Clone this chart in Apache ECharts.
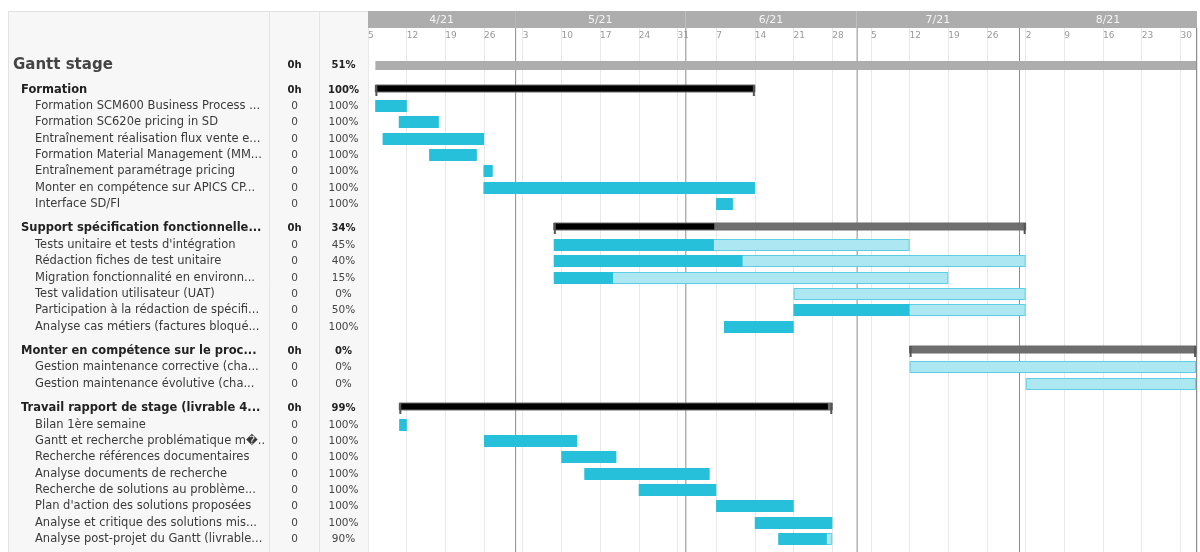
<!DOCTYPE html>
<html>
<head>
<meta charset="utf-8">
<title>Gantt stage</title>
<script src="https://cdn.jsdelivr.net/npm/echarts@6/dist/echarts.min.js"></script>
<style>
  html, body { margin: 0; padding: 0; background: #fff; }
  #main { width: 1200px; height: 552px; }
</style>
</head>
<body>
<div id="main"></div>
<script>
// rows, top to bottom. level: 0 = projet, 1 = groupe, 2 = tâche
var taskNames = [
  "Gantt stage",
  "Formation",
  "Formation SCM600 Business Process ...",
  "Formation SC620e pricing in SD",
  "Entraînement réalisation flux vente e...",
  "Formation Material Management (MM...",
  "Entraînement paramétrage pricing",
  "Monter en compétence sur APICS CP...",
  "Interface SD/FI",
  "Support spécification fonctionnelle...",
  "Tests unitaire et tests d'intégration",
  "Rédaction fiches de test unitaire",
  "Migration fonctionnalité en environn...",
  "Test validation utilisateur (UAT)",
  "Participation à la rédaction de spécifi...",
  "Analyse cas métiers (factures bloqué...",
  "Monter en compétence sur le proc...",
  "Gestion maintenance corrective (cha...",
  "Gestion maintenance évolutive (cha...",
  "Travail rapport de stage (livrable 4...",
  "Bilan 1ère semaine",
  "Gantt et recherche problématique m\uFFFD..",
  "Recherche références documentaires",
  "Analyse documents de recherche",
  "Recherche de solutions au problème...",
  "Plan d'action des solutions proposées",
  "Analyse et critique des solutions mis...",
  "Analyse post-projet du Gantt (livrable..."
];
var taskLevel = [0, 1, 2, 2, 2, 2, 2, 2, 2, 1, 2, 2, 2, 2, 2, 2, 1, 2, 2, 1, 2, 2, 2, 2, 2, 2, 2, 2];
var taskHours = ["0h", "0h", "0", "0", "0", "0", "0", "0", "0", "0h", "0", "0", "0", "0", "0", "0",
  "0h", "0", "0", "0h", "0", "0", "0", "0", "0", "0", "0", "0"];
var taskProgress = [51, 100, 100, 100, 100, 100, 100, 100, 100, 34, 45, 40, 15, 0, 50, 100,
  0, 0, 0, 99, 100, 100, 100, 100, 100, 100, 100, 90];
var taskStart = [
  "2021-04-06 08:00",
  "2021-04-06 08:00", "2021-04-06 08:00", "2021-04-10 14:00", "2021-04-07 16:00",
  "2021-04-16 02:00", "2021-04-25 22:00", "2021-04-25 22:00", "2021-06-07 00:00",
  "2021-05-08 15:00", "2021-05-08 15:00", "2021-05-08 15:00", "2021-05-08 15:00",
  "2021-06-21 00:00", "2021-06-21 00:00", "2021-06-08 10:00",
  "2021-07-12 00:00", "2021-07-12 00:00", "2021-08-02 00:00",
  "2021-04-10 16:00", "2021-04-10 16:00", "2021-04-26 00:00", "2021-05-10 00:00",
  "2021-05-14 04:00", "2021-05-24 00:00", "2021-06-07 00:00", "2021-06-14 00:00",
  "2021-06-18 06:00"
];
var taskEnd = [
  "2021-09-01 20:00",
  "2021-06-14 00:00", "2021-04-12 00:00", "2021-04-17 19:00", "2021-04-26 00:00",
  "2021-04-24 16:00", "2021-04-27 13:00", "2021-06-14 00:00", "2021-06-10 00:00",
  "2021-08-02 00:00", "2021-07-12 00:00", "2021-08-02 00:00", "2021-07-19 00:00",
  "2021-08-02 00:00", "2021-08-02 00:00", "2021-06-21 00:00",
  "2021-09-01 20:00", "2021-09-01 20:00", "2021-09-01 20:00",
  "2021-06-28 00:00", "2021-04-12 00:00", "2021-05-12 20:00", "2021-05-19 22:00",
  "2021-06-05 19:00", "2021-06-07 00:00", "2021-06-21 00:00", "2021-06-28 00:00",
  "2021-06-28 00:00"
];

// échelle des mois
var monthBounds = ["2021-04-05", "2021-05-01 15:00", "2021-06-01 10:00", "2021-07-02 10:00",
  "2021-07-31 19:00", "2021-09-02"];
var monthLabels = ["4/21", "5/21", "6/21", "7/21", "8/21"];

var axisStart = "2021-04-05";
var axisEnd = "2021-09-02";

var base = toUTC(axisStart);
function toUTC(s) {
  var p = s.split(/[- :]/);
  return Date.UTC(+p[0], p[1] - 1, +p[2], +(p[3] || 0), +(p[4] || 0));
}
function days(s) {
  return (toUTC(s) - base) / 86400000;
}

// position verticale des lignes (demi-ligne de plus avant chaque groupe)
var rowPos = [];
var pos = 0;
taskLevel.forEach(function (lv, i) {
  if (i > 0) pos += lv < 2 ? 1.5 : 1;
  rowPos.push(pos);
});

var barData = taskStart.map(function (s, i) {
  return [days(s), days(taskEnd[i]), rowPos[i], taskProgress[i], taskLevel[i]];
});
var tableData = rowPos.map(function (p, i) { return [0, p, i]; });
var monthData = monthLabels.map(function (m, i) {
  return [days(monthBounds[i]), days(monthBounds[i + 1]), i];
});
var maxDay = days(axisEnd);

var chart = echarts.init(document.getElementById("main"));
var FONT = "DejaVu Sans";

function renderMonth(params, api) {
  var a = api.value(0), b = api.value(1), i = api.value(2);
  var x0 = api.coord([Math.max(a, 0), 0])[0];
  var x1 = api.coord([Math.min(b, maxDay), 0])[0];
  var h = api.getHeight();
  var kids = [
    { type: "rect", shape: { x: x0, y: 11, width: x1 - x0, height: 17 }, style: { fill: "#adadad" } },
    { type: "text", x: (x0 + x1) / 2, y: 20,
      style: { text: monthLabels[i], fill: "#f4f4f4", font: "11px " + FONT, align: "center", verticalAlign: "middle" } }
  ];
  if (a > 0) {
    kids.push({ type: "line", shape: { x1: x0 + 0.5, y1: 28, x2: x0 + 0.5, y2: 552 }, style: { stroke: "#8c8c8c", lineWidth: 1 } });
  }
  if (b >= maxDay) {
    kids.push({ type: "line", shape: { x1: x1 - 0.5, y1: 28, x2: x1 - 0.5, y2: 552 }, style: { stroke: "#8c8c8c", lineWidth: 1 } });
  }
  return { type: "group", children: kids };
}

function renderBar(params, api) {
  var p0 = api.coord([api.value(0), api.value(2)]);
  var p1 = api.coord([api.value(1), api.value(2)]);
  var prog = api.value(3), lv = api.value(4);
  var y = Math.round(p0[1]);
  var xs = p0[0], xe = p1[0];
  var xp = xs + (xe - xs) * prog / 100;
  var kids = [];
  if (lv === 0) {
    kids.push({ type: "rect", shape: { x: xs, y: y - 4, width: xe - xs, height: 9 }, style: { fill: "#adadad" } });
  } else if (lv === 1) {
    kids.push({ type: "rect", shape: { x: xs, y: y - 5, width: xe - xs, height: 7 }, style: { fill: "#6e6e6e" } });
    if (prog > 0) {
      kids.push({ type: "rect", shape: { x: xs, y: y - 5, width: xp - xs, height: 7 }, style: { fill: "#000" } });
    }
    kids.push({ type: "rect", shape: { x: xs, y: y - 5, width: xe - xs, height: 7 }, style: { fill: null, stroke: "#6a6a6a", lineWidth: 1 } });
    kids.push({ type: "rect", shape: { x: xs, y: y - 5, width: 2, height: 11 }, style: { fill: "#555" } });
    kids.push({ type: "rect", shape: { x: xe - 2, y: y - 5, width: 2, height: 11 }, style: { fill: "#555" } });
  } else {
    kids.push({ type: "rect", shape: { x: xs + 0.5, y: y - 5.5, width: xe - xs - 1, height: 11 },
      style: { fill: "#ade8f2", stroke: "#5ccde2", lineWidth: 1 } });
    if (prog > 0) {
      kids.push({ type: "rect", shape: { x: xs, y: y - 6, width: xp - xs, height: 12 }, style: { fill: "#26c0db" } });
    }
  }
  return { type: "group", children: kids };
}

function renderRow(params, api) {
  var i = api.value(2);
  var y = Math.round(api.coord([0, api.value(1)])[1]);
  var lv = taskLevel[i];
  var nameX = [13, 21, 35][lv];
  var nameFont = lv === 0 ? "bold 15px " + FONT : (lv === 1 ? "bold 11.5px " + FONT : "11.5px " + FONT);
  var nameColor = lv === 0 ? "#444" : (lv === 1 ? "#222" : "#3a3a3a");
  var numFont = lv < 2 ? "bold 10px " + FONT : "10.5px " + FONT;
  var numColor = lv < 2 ? "#222" : "#444";
  return {
    type: "group",
    children: [
      { type: "text", x: nameX, y: y, style: { text: taskNames[i], font: nameFont, fill: nameColor, verticalAlign: "middle" } },
      { type: "text", x: 294.5, y: y, style: { text: taskHours[i], font: numFont, fill: numColor, align: "center", verticalAlign: "middle" } },
      { type: "text", x: 343.5, y: y, style: { text: taskProgress[i] + "%", font: numFont, fill: numColor, align: "center", verticalAlign: "middle" } }
    ]
  };
}

var option = {
  animation: false,
  backgroundColor: "#fff",
  textStyle: { fontFamily: FONT },
  graphic: [
    { type: "rect", left: 8, top: 11, shape: { width: 360, height: 560 }, style: { fill: "#f7f7f7", stroke: "#e2e2e2", lineWidth: 1 }, z: 0 },
    { type: "line", shape: { x1: 269.5, y1: 11, x2: 269.5, y2: 552 }, style: { stroke: "#e4e4e4", lineWidth: 1 }, z: 0 },
    { type: "line", shape: { x1: 319.5, y1: 11, x2: 319.5, y2: 552 }, style: { stroke: "#e4e4e4", lineWidth: 1 }, z: 0 }
  ],
  grid: { left: 368, right: 3, top: 28, bottom: 0 },
  xAxis: {
    type: "value",
    position: "top",
    min: 0,
    max: maxDay,
    interval: 7,
    axisLine: { show: false },
    axisTick: { show: false },
    axisLabel: {
      inside: true,
      margin: 3,
      align: "left",
      verticalAlign: "top",
      color: "#9a9a9a",
      fontSize: 9,
      fontFamily: FONT,
      showMaxLabel: false,
      formatter: function (v) {
        if (v % 7 !== 0) return "";
        return String(new Date(base + v * 86400000).getUTCDate());
      }
    },
    splitLine: { show: true, lineStyle: { color: "#e8e8e8", width: 1 } }
  },
  yAxis: {
    type: "value",
    inverse: true,
    min: -2.263,
    max: 29.786,
    show: false
  },
  series: [
    { type: "custom", name: "mois", renderItem: renderMonth, data: monthData, z: 1, silent: true },
    { type: "custom", name: "barres", renderItem: renderBar, data: barData, z: 3, silent: true },
    { type: "custom", name: "table", renderItem: renderRow, data: tableData, z: 4, silent: true, clip: false }
  ]
};
chart.setOption(option);
</script>
</body>
</html>
